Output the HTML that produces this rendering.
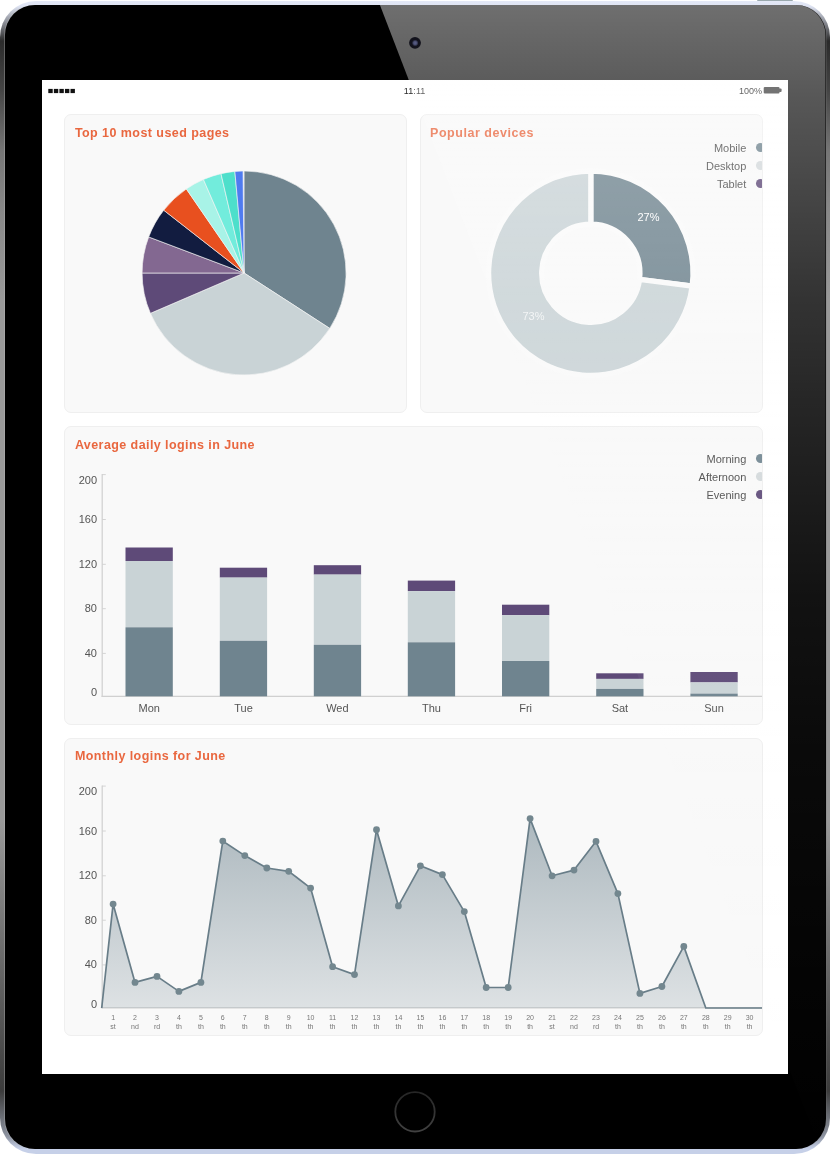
<!DOCTYPE html>
<html lang="en">
<head>
<meta charset="utf-8">
<title>Dashboard on tablet</title>
<style>
html,body{margin:0;padding:0;background:#fff;}
body{width:830px;height:1154px;position:relative;overflow:hidden;font-family:"Liberation Sans",Arial,sans-serif;}
.power{position:absolute;left:757px;top:0;width:36px;height:3px;background:#9aa9ae;border-radius:1px 1px 0 0;}
.tablet{position:absolute;left:0;top:1px;width:830px;height:1153px;border-radius:36px;
  background:linear-gradient(to bottom,#e3e8f6 0,#dfe4f3 5px,#2b2b2b 40px,#454545 90px,#767676 150px,#888 210px,#999 300px,#999 820px,#3c3c3c 1090px,#8d93a0 1135px,#c6d0e8 1148px,#c6d0e8 100%);}
.bezel{position:absolute;left:4.5px;top:4px;right:4.5px;bottom:5px;border-radius:30px;background:#000;box-shadow:-1px 0 0 0 rgba(190,190,190,.35),1px 0 0 0 rgba(120,120,120,.25);overflow:hidden;}
.sheen{position:absolute;left:0;top:0;width:830px;height:1154px;pointer-events:none;}
.screen{position:absolute;left:42px;top:80px;width:746px;height:994px;background:#fff;overflow:hidden;}
.screen{will-change:transform;}
.status{position:absolute;left:0;top:0;width:746px;height:22px;font-size:9px;color:#2a2a2a;}
.status svg{position:absolute;left:0;top:0;width:746px;height:22px;}
.status svg text{font-family:"Liberation Sans",Arial,sans-serif;}
.time{position:absolute;left:0;width:746px;top:5.6px;text-align:center;letter-spacing:.1px;}
.batt{position:absolute;right:26px;top:5.9px;}
.card{position:absolute;background:#f9f9f9;border:1px solid #efefef;border-radius:7px;box-sizing:border-box;overflow:hidden;}
.card h2{position:absolute;left:9.9px;top:9.6px;margin:0;font-size:12.5px;line-height:16px;font-weight:bold;color:#e9673f;white-space:nowrap;letter-spacing:.42px;}
.legend{position:absolute;right:-2.6px;top:23.9px;font-size:11px;color:#4a4a4a;text-align:right;line-height:18.1px;}
.legend div{white-space:nowrap;}
.legend b{display:inline-block;width:9.2px;height:9.2px;border-radius:50%;margin-left:9.5px;vertical-align:-.4px;}
svg.chart{position:absolute;left:0;top:0;width:746px;height:994px;pointer-events:none;}
svg.chart text{font-family:"Liberation Sans",Arial,sans-serif;}
</style>
</head>
<body>
<div class="power"></div>
<div class="tablet">
  <div class="bezel"></div>
</div>
<div class="screen">
  <div class="status">
    <svg viewBox="0 0 746 22">
      <g fill="#111"><rect x="6.3" y="8.9" width="4.4" height="4.2"/><rect x="11.85" y="8.9" width="4.4" height="4.2"/><rect x="17.4" y="8.9" width="4.4" height="4.2"/><rect x="22.95" y="8.9" width="4.4" height="4.2"/><rect x="28.5" y="8.9" width="4.4" height="4.2"/></g>
      <rect x="721.7" y="6.9" width="15.8" height="6.6" rx="1.1" fill="#404040"/><rect x="736.6" y="8.5" width="3" height="3.4" rx="1" fill="#404040"/>
      <text x="372.6" y="14.1" text-anchor="middle" font-size="9" fill="#2a2a2a" letter-spacing=".1">11:11</text>
      <text x="720" y="14.1" text-anchor="end" font-size="9" fill="#2a2a2a">100%</text>
    </svg>
  </div>

  <div class="card" style="left:22px;top:34px;width:343.3px;height:299px;"><h2 style="letter-spacing:.44px">Top 10 most used pages</h2></div>
  <div class="card" style="left:378px;top:34px;width:343.4px;height:299px;"><h2 style="letter-spacing:.54px;left:9px">Popular devices</h2>
    <div class="legend"><div>Mobile<b style="background:#6f848f"></b></div><div>Desktop<b style="background:#d3d9db"></b></div><div>Tablet<b style="background:#5e4a78"></b></div></div>
  </div>
  <div class="card" style="left:22px;top:346px;width:699.4px;height:298.5px;"><h2>Average daily logins in June</h2>
    <div class="legend" style="top:22.8px"><div>Morning<b style="background:#6f848f"></b></div><div>Afternoon<b style="background:#d3d9db"></b></div><div>Evening<b style="background:#5e4a78"></b></div></div>
  </div>
  <div class="card" style="left:22px;top:657.5px;width:699.4px;height:298px;"><h2 style="letter-spacing:.43px">Monthly logins for June</h2></div>

  <svg class="chart" viewBox="0 0 746 994">
    <defs>
      <linearGradient id="ag" x1="0" y1="0" x2="0" y2="1">
        <stop offset="0" stop-color="#6f848f" stop-opacity=".55"/>
        <stop offset="1" stop-color="#6f848f" stop-opacity=".2"/>
      </linearGradient>
    </defs>
    <g stroke="#f4f4f4" stroke-width=".8" stroke-opacity=".8">
<path d="M202.10,193.00 L202.10,91.00 A102,102 0 0 1 287.74,248.40 Z" fill="#6f848f"/>
<path d="M202.10,193.00 L287.74,248.40 A102,102 0 0 1 108.42,233.35 Z" fill="#c9d3d6"/>
<path d="M202.10,193.00 L108.42,233.35 A102,102 0 0 1 100.10,193.00 Z" fill="#5e4a78"/>
<path d="M202.10,193.00 L100.10,193.00 A102,102 0 0 1 106.68,156.95 Z" fill="#836891"/>
<path d="M202.10,193.00 L106.68,156.95 A102,102 0 0 1 121.72,130.20 Z" fill="#121c40"/>
<path d="M202.10,193.00 L121.72,130.20 A102,102 0 0 1 144.33,108.94 Z" fill="#e8501f"/>
<path d="M202.10,193.00 L144.33,108.94 A102,102 0 0 1 161.43,99.46 Z" fill="#a8f3e7"/>
<path d="M202.10,193.00 L161.43,99.46 A102,102 0 0 1 178.98,93.65 Z" fill="#72ecdc"/>
<path d="M202.10,193.00 L178.98,93.65 A102,102 0 0 1 192.86,91.42 Z" fill="#4ddfcb"/>
<path d="M202.10,193.00 L192.86,91.42 A102,102 0 0 1 201.03,91.01 Z" fill="#4f7bf0"/>
    </g>
    <g stroke="#fafafa" stroke-width="5.3" stroke-linejoin="miter">
<path d="M548.80,91.00 A102.2,102.2 0 0 1 650.19,206.01 L597.51,199.35 A49.1,49.1 0 0 0 548.80,144.10 Z" fill="#6f848f"/>
<path d="M650.19,206.01 A102.2,102.2 0 1 1 548.80,91.00 L548.80,144.10 A49.1,49.1 0 1 0 597.51,199.35 Z" fill="#c9d3d6"/>
    </g>
    <g font-size="11" fill="#fff" text-anchor="middle">
      <text x="606.5" y="141">27%</text>
      <text x="491.5" y="239.7" fill-opacity=".75">73%</text>
    </g>

    <g font-size="11" fill="#555">
      <text x="55.0" y="403.85" text-anchor="end">200</text><line x1="60.2" x2="63.8" y1="394.6" y2="394.6" stroke="#d4d4d4" stroke-width="1"/><text x="55.0" y="443.15" text-anchor="end">160</text><line x1="60.2" x2="63.8" y1="439.5" y2="439.5" stroke="#d4d4d4" stroke-width="1"/><text x="55.0" y="487.95" text-anchor="end">120</text><line x1="60.2" x2="63.8" y1="484.3" y2="484.3" stroke="#d4d4d4" stroke-width="1"/><text x="55.0" y="532.15" text-anchor="end">80</text><line x1="60.2" x2="63.8" y1="528.7" y2="528.7" stroke="#d4d4d4" stroke-width="1"/><text x="55.0" y="576.95" text-anchor="end">40</text><line x1="60.2" x2="63.8" y1="573.4" y2="573.4" stroke="#d4d4d4" stroke-width="1"/><text x="55.0" y="616.45" text-anchor="end">0</text><line x1="60.2" x2="60.2" y1="394.1" y2="616.9" stroke="#d0d0d0" stroke-width="1.2"/><line x1="59.6" x2="720" y1="616.3" y2="616.3" stroke="#d0d0d0" stroke-width="1.2"/>
      <rect x="83.5" y="467.5" width="47.3" height="13.5" fill="#5e4a78"/><rect x="83.5" y="481.0" width="47.3" height="66.3" fill="#c9d3d6"/><rect x="83.5" y="547.3" width="47.3" height="69.0" fill="#6f848f"/>
<rect x="177.8" y="487.7" width="47.3" height="9.9" fill="#5e4a78"/><rect x="177.8" y="497.6" width="47.3" height="63.2" fill="#c9d3d6"/><rect x="177.8" y="560.8" width="47.3" height="55.5" fill="#6f848f"/>
<rect x="271.8" y="485.2" width="47.3" height="9.4" fill="#5e4a78"/><rect x="271.8" y="494.6" width="47.3" height="70.2" fill="#c9d3d6"/><rect x="271.8" y="564.8" width="47.3" height="51.5" fill="#6f848f"/>
<rect x="365.8" y="500.6" width="47.3" height="10.5" fill="#5e4a78"/><rect x="365.8" y="511.1" width="47.3" height="51.2" fill="#c9d3d6"/><rect x="365.8" y="562.3" width="47.3" height="54.0" fill="#6f848f"/>
<rect x="460.0" y="524.7" width="47.3" height="10.5" fill="#5e4a78"/><rect x="460.0" y="535.2" width="47.3" height="45.8" fill="#c9d3d6"/><rect x="460.0" y="581.0" width="47.3" height="35.3" fill="#6f848f"/>
<rect x="554.2" y="593.3" width="47.3" height="5.6" fill="#5e4a78"/><rect x="554.2" y="598.9" width="47.3" height="10.0" fill="#c9d3d6"/><rect x="554.2" y="608.9" width="47.3" height="7.4" fill="#6f848f"/>
<rect x="648.4" y="592.0" width="47.3" height="10.4" fill="#5e4a78"/><rect x="648.4" y="602.4" width="47.3" height="11.2" fill="#c9d3d6"/><rect x="648.4" y="613.6" width="47.3" height="2.7" fill="#6f848f"/>

      <text x="107.2" y="632.3" text-anchor="middle">Mon</text><text x="201.5" y="632.3" text-anchor="middle">Tue</text><text x="295.4" y="632.3" text-anchor="middle">Wed</text><text x="389.4" y="632.3" text-anchor="middle">Thu</text><text x="483.6" y="632.3" text-anchor="middle">Fri</text><text x="577.9" y="632.3" text-anchor="middle">Sat</text><text x="672.0" y="632.3" text-anchor="middle">Sun</text>
    </g>

    <g font-size="11" fill="#555">
      <text x="55.0" y="715.35" text-anchor="end">200</text><line x1="60.2" x2="63.8" y1="706.1" y2="706.1" stroke="#d4d4d4" stroke-width="1"/><text x="55.0" y="754.65" text-anchor="end">160</text><line x1="60.2" x2="63.8" y1="751.0" y2="751.0" stroke="#d4d4d4" stroke-width="1"/><text x="55.0" y="799.45" text-anchor="end">120</text><line x1="60.2" x2="63.8" y1="795.8" y2="795.8" stroke="#d4d4d4" stroke-width="1"/><text x="55.0" y="843.65" text-anchor="end">80</text><line x1="60.2" x2="63.8" y1="840.2" y2="840.2" stroke="#d4d4d4" stroke-width="1"/><text x="55.0" y="888.45" text-anchor="end">40</text><line x1="60.2" x2="63.8" y1="884.9" y2="884.9" stroke="#d4d4d4" stroke-width="1"/><text x="55.0" y="927.95" text-anchor="end">0</text><line x1="60.2" x2="60.2" y1="705.6" y2="928.4" stroke="#d0d0d0" stroke-width="1.2"/><line x1="59.6" x2="720" y1="927.8" y2="927.8" stroke="#d0d0d0" stroke-width="1.2"/>
    </g>
    <path d="M59.7,928.0 L71.1,824.1 L93.0,902.4 L115.0,896.4 L136.9,911.4 L158.9,902.4 L180.8,761.1 L202.8,775.6 L224.8,788.0 L246.7,791.3 L268.6,808.1 L290.6,886.7 L312.5,894.6 L334.5,749.7 L356.4,825.9 L378.4,785.8 L400.4,794.6 L422.3,831.6 L444.2,907.5 L466.2,907.5 L488.1,738.6 L510.1,795.8 L532.0,790.1 L554.0,761.4 L575.9,813.6 L597.9,913.4 L619.9,906.5 L641.8,866.4 L663.8,928.0 L685.7,928.0 L707.6,928.0 L720.0,928.0 Z" fill="url(#ag)"/>
    <path d="M59.7,928.0 L71.1,824.1 L93.0,902.4 L115.0,896.4 L136.9,911.4 L158.9,902.4 L180.8,761.1 L202.8,775.6 L224.8,788.0 L246.7,791.3 L268.6,808.1 L290.6,886.7 L312.5,894.6 L334.5,749.7 L356.4,825.9 L378.4,785.8 L400.4,794.6 L422.3,831.6 L444.2,907.5 L466.2,907.5 L488.1,738.6 L510.1,795.8 L532.0,790.1 L554.0,761.4 L575.9,813.6 L597.9,913.4 L619.9,906.5 L641.8,866.4 L663.8,928.0 L685.7,928.0 L707.6,928.0 L720.0,928.0" fill="none" stroke="#687d88" stroke-width="1.7" stroke-linejoin="round"/>
    <g fill="#73878f"><circle cx="71.1" cy="824.1" r="3.4"/><circle cx="93.0" cy="902.4" r="3.4"/><circle cx="115.0" cy="896.4" r="3.4"/><circle cx="136.9" cy="911.4" r="3.4"/><circle cx="158.9" cy="902.4" r="3.4"/><circle cx="180.8" cy="761.1" r="3.4"/><circle cx="202.8" cy="775.6" r="3.4"/><circle cx="224.8" cy="788.0" r="3.4"/><circle cx="246.7" cy="791.3" r="3.4"/><circle cx="268.6" cy="808.1" r="3.4"/><circle cx="290.6" cy="886.7" r="3.4"/><circle cx="312.5" cy="894.6" r="3.4"/><circle cx="334.5" cy="749.7" r="3.4"/><circle cx="356.4" cy="825.9" r="3.4"/><circle cx="378.4" cy="785.8" r="3.4"/><circle cx="400.4" cy="794.6" r="3.4"/><circle cx="422.3" cy="831.6" r="3.4"/><circle cx="444.2" cy="907.5" r="3.4"/><circle cx="466.2" cy="907.5" r="3.4"/><circle cx="488.1" cy="738.6" r="3.4"/><circle cx="510.1" cy="795.8" r="3.4"/><circle cx="532.0" cy="790.1" r="3.4"/><circle cx="554.0" cy="761.4" r="3.4"/><circle cx="575.9" cy="813.6" r="3.4"/><circle cx="597.9" cy="913.4" r="3.4"/><circle cx="619.9" cy="906.5" r="3.4"/><circle cx="641.8" cy="866.4" r="3.4"/></g>
    <g font-size="7" fill="#777" text-anchor="middle"><text x="71.1" y="940.3">1</text><text x="71.1" y="949.3">st</text><text x="93.0" y="940.3">2</text><text x="93.0" y="949.3">nd</text><text x="115.0" y="940.3">3</text><text x="115.0" y="949.3">rd</text><text x="136.9" y="940.3">4</text><text x="136.9" y="949.3">th</text><text x="158.9" y="940.3">5</text><text x="158.9" y="949.3">th</text><text x="180.8" y="940.3">6</text><text x="180.8" y="949.3">th</text><text x="202.8" y="940.3">7</text><text x="202.8" y="949.3">th</text><text x="224.8" y="940.3">8</text><text x="224.8" y="949.3">th</text><text x="246.7" y="940.3">9</text><text x="246.7" y="949.3">th</text><text x="268.6" y="940.3">10</text><text x="268.6" y="949.3">th</text><text x="290.6" y="940.3">11</text><text x="290.6" y="949.3">th</text><text x="312.5" y="940.3">12</text><text x="312.5" y="949.3">th</text><text x="334.5" y="940.3">13</text><text x="334.5" y="949.3">th</text><text x="356.4" y="940.3">14</text><text x="356.4" y="949.3">th</text><text x="378.4" y="940.3">15</text><text x="378.4" y="949.3">th</text><text x="400.4" y="940.3">16</text><text x="400.4" y="949.3">th</text><text x="422.3" y="940.3">17</text><text x="422.3" y="949.3">th</text><text x="444.2" y="940.3">18</text><text x="444.2" y="949.3">th</text><text x="466.2" y="940.3">19</text><text x="466.2" y="949.3">th</text><text x="488.1" y="940.3">20</text><text x="488.1" y="949.3">th</text><text x="510.1" y="940.3">21</text><text x="510.1" y="949.3">st</text><text x="532.0" y="940.3">22</text><text x="532.0" y="949.3">nd</text><text x="554.0" y="940.3">23</text><text x="554.0" y="949.3">rd</text><text x="575.9" y="940.3">24</text><text x="575.9" y="949.3">th</text><text x="597.9" y="940.3">25</text><text x="597.9" y="949.3">th</text><text x="619.9" y="940.3">26</text><text x="619.9" y="949.3">th</text><text x="641.8" y="940.3">27</text><text x="641.8" y="949.3">th</text><text x="663.8" y="940.3">28</text><text x="663.8" y="949.3">th</text><text x="685.7" y="940.3">29</text><text x="685.7" y="949.3">th</text><text x="707.6" y="940.3">30</text><text x="707.6" y="949.3">th</text></g>
  </svg>
</div>

<svg class="sheen" viewBox="0 0 830 1154">
  <defs>
    <linearGradient id="sg" x1="0" y1="0" x2="0" y2="1154" gradientUnits="userSpaceOnUse">
      <stop offset="0" stop-color="#fff" stop-opacity=".44"/>
      <stop offset=".087" stop-color="#fff" stop-opacity=".34"/>
      <stop offset=".173" stop-color="#fff" stop-opacity=".27"/>
      <stop offset=".26" stop-color="#fff" stop-opacity=".2"/>
      <stop offset=".347" stop-color="#fff" stop-opacity=".15"/>
      <stop offset=".433" stop-color="#fff" stop-opacity=".11"/>
      <stop offset=".52" stop-color="#fff" stop-opacity=".07"/>
      <stop offset=".65" stop-color="#fff" stop-opacity=".04"/>
      <stop offset=".78" stop-color="#fff" stop-opacity=".024"/>
      <stop offset="1" stop-color="#fff" stop-opacity="0"/>
    </linearGradient>
    <linearGradient id="hb" x1="0" y1="0" x2="0" y2="1"><stop offset="0" stop-color="#262626"/><stop offset="1" stop-color="#414141"/></linearGradient>
    <radialGradient id="cam"><stop offset="0" stop-color="#5d618a"/><stop offset=".5" stop-color="#4a4e72"/><stop offset="1" stop-color="#12121c"/></radialGradient>
    <clipPath id="sc"><rect x="42" y="80" width="746" height="994"/></clipPath>
    <clipPath id="nosc"><path clip-rule="evenodd" d="M0,0H830V1154H0Z M42,80V1074H788V80Z"/></clipPath>
    <clipPath id="bz"><rect x="4.5" y="5" width="821" height="1144" rx="30" ry="30"/></clipPath>
  </defs>
  <g clip-path="url(#bz)"><polygon points="378,0 830,0 830,1154 822,1154" fill="url(#sg)" clip-path="url(#nosc)"/></g>
  <polygon points="378,0 830,0 830,1154 822,1154" fill="url(#sg)" clip-path="url(#sc)" opacity=".78"/>
  <circle cx="415" cy="42.8" r="5.9" fill="#12121c"/>
  <circle cx="415.2" cy="43" r="3.4" fill="url(#cam)"/>
  <circle cx="415" cy="1111.8" r="19.7" fill="none" stroke="url(#hb)" stroke-width="1.8"/>
</svg>
</body>
</html>
